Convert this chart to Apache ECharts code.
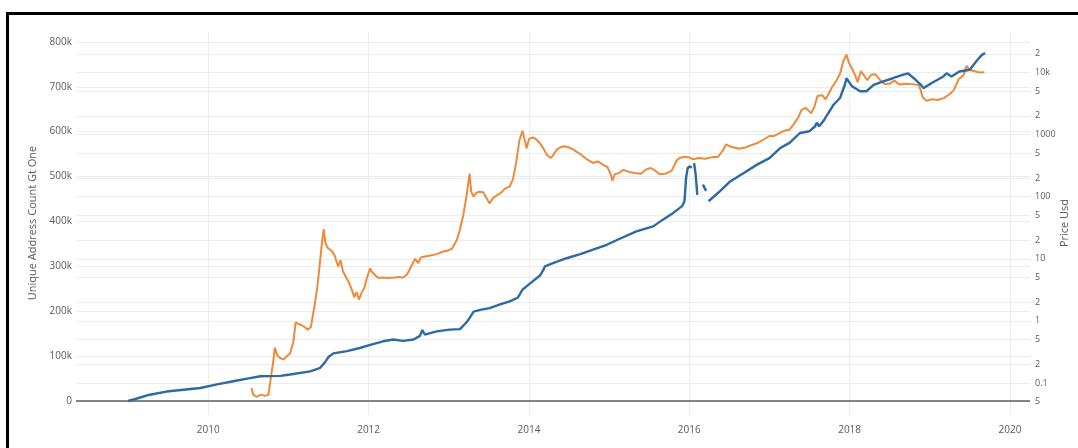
<!DOCTYPE html>
<html>
<head>
<meta charset="utf-8">
<script src="https://cdn.jsdelivr.net/npm/echarts@6/dist/echarts.min.js"></script>
<style>
  html, body { margin: 0; padding: 0; background: #fff; }
  #chart { width: 1078px; height: 448px; }
</style>
</head>
<body>
<div id="chart"></div>
<script>
// Unique addresses holding more than one coin (left, linear axis)
const addrYears = [
  2009.00, 2009.10, 2009.27, 2009.48, 2009.69, 2009.90, 2010.11, 2010.31, 2010.52, 2010.65,
  2010.90, 2011.02, 2011.27, 2011.39, 2011.45, 2011.50, 2011.56, 2011.73, 2011.89, 2012.02,
  2012.18, 2012.31, 2012.43, 2012.56, 2012.64, 2012.67, 2012.70, 2012.85, 2013.01, 2013.14,
  2013.23, 2013.31, 2013.39, 2013.51, 2013.64, 2013.76, 2013.86, 2013.92, 2014.05, 2014.14,
  2014.18, 2014.20, 2014.22, 2014.30, 2014.47, 2014.64, 2014.80, 2014.97, 2015.14, 2015.34,
  2015.55, 2015.67, 2015.80, 2015.91, 2015.94, 2015.96, 2015.98, 2016.01, 2016.03, 2016.045,
  2016.06, 2016.08, 2016.10, 2016.135, 2016.17, 2016.21, 2016.225, 2016.24, 2016.38, 2016.51,
  2016.68, 2016.84, 2017.00, 2017.13, 2017.25, 2017.38, 2017.50, 2017.57, 2017.59, 2017.62,
  2017.67, 2017.80, 2017.88, 2017.94, 2017.96, 2018.03, 2018.13, 2018.21, 2018.30, 2018.42,
  2018.54, 2018.67, 2018.73, 2018.80, 2018.88, 2018.92, 2019.04, 2019.17, 2019.21, 2019.27,
  2019.37, 2019.50, 2019.58, 2019.65, 2019.69
];
const addrCounts = [
  0, 5000, 14000, 21000, 25000, 29000, 37000, 44000, 51000, 55000,
  56000, 59000, 66000, 73000, 85000, 98000, 106000, 111000, 118000, 125000,
  133000, 137000, 134000, 137000, 145000, 158000, 148000, 155000, 159000, 160000,
  177000, 199000, 203000, 207000, 215000, 222000, 230000, 248000, 267000, 280000,
  292000, 300000, 296000, 307000, 318000, 327000, 337000, 348000, 362000, 378000,
  389000, 404000, 419000, 434000, 445000, 497000, 519000, 523000, 519000, null,
  530000, 504000, 459000, null, 482000, 468000, null, 445000, 467000, 489000,
  508000, 526000, 541000, 563000, 575000, 597000, 601000, 612000, 620000, 612000,
  623000, 660000, 675000, 704000, 719000, 701000, 690000, 690000, 704000, 712000,
  719000, 727000, 730000, 719000, 706000, 697000, 710000, 723000, 730000, 723000,
  734000, 738000, 757000, 771000, 775000
];

// Price in USD (right, logarithmic axis)
const priceYears = [
  2010.54, 2010.56, 2010.60, 2010.66, 2010.71, 2010.75, 2010.78, 2010.81, 2010.83, 2010.86,
  2010.90, 2010.94, 2010.98, 2011.02, 2011.06, 2011.09, 2011.12, 2011.15, 2011.20, 2011.24,
  2011.28, 2011.32, 2011.36, 2011.39, 2011.42, 2011.44, 2011.46, 2011.49, 2011.52, 2011.55,
  2011.58, 2011.62, 2011.65, 2011.68, 2011.72, 2011.75, 2011.79, 2011.82, 2011.85, 2011.88,
  2011.91, 2011.95, 2011.98, 2012.02, 2012.04, 2012.08, 2012.12, 2012.18, 2012.25, 2012.32,
  2012.38, 2012.43, 2012.48, 2012.53, 2012.58, 2012.62, 2012.65, 2012.72, 2012.80, 2012.86,
  2012.92, 2012.98, 2013.04, 2013.10, 2013.14, 2013.18, 2013.22, 2013.26, 2013.28, 2013.31,
  2013.34, 2013.38, 2013.43, 2013.47, 2013.51, 2013.55, 2013.60, 2013.65, 2013.70, 2013.76,
  2013.80, 2013.84, 2013.88, 2013.92, 2013.95, 2013.97, 2014.00, 2014.05, 2014.10, 2014.14,
  2014.18, 2014.22, 2014.27, 2014.30, 2014.35, 2014.40, 2014.45, 2014.50, 2014.55, 2014.60,
  2014.65, 2014.70, 2014.75, 2014.80, 2014.86, 2014.92, 2014.98, 2015.02, 2015.04, 2015.07,
  2015.12, 2015.18, 2015.25, 2015.32, 2015.40, 2015.45, 2015.52, 2015.58, 2015.63, 2015.70,
  2015.78, 2015.84, 2015.88, 2015.94, 2016.00, 2016.05, 2016.12, 2016.20, 2016.28, 2016.36,
  2016.42, 2016.46, 2016.50, 2016.56, 2016.62, 2016.70, 2016.78, 2016.86, 2016.94, 2017.00,
  2017.06, 2017.12, 2017.18, 2017.25, 2017.30, 2017.36, 2017.40, 2017.45, 2017.48, 2017.52,
  2017.56, 2017.60, 2017.66, 2017.70, 2017.74, 2017.78, 2017.83, 2017.88, 2017.92, 2017.96,
  2017.99, 2018.03, 2018.07, 2018.10, 2018.14, 2018.18, 2018.22, 2018.27, 2018.32, 2018.38,
  2018.44, 2018.50, 2018.56, 2018.62, 2018.70, 2018.78, 2018.86, 2018.88, 2018.91, 2018.96,
  2019.03, 2019.10, 2019.18, 2019.25, 2019.30, 2019.36, 2019.42, 2019.46, 2019.50, 2019.56,
  2019.62, 2019.68
];
const priceUsd = [
  0.083, 0.065, 0.060, 0.065, 0.062, 0.065, 0.12, 0.22, 0.37, 0.28,
  0.25, 0.24, 0.27, 0.30, 0.45, 0.95, 0.90, 0.87, 0.80, 0.72,
  0.80, 1.6, 3.5, 8, 19, 30, 18, 15, 14, 13,
  11, 7.5, 9.5, 6.3, 5.0, 4.3, 3.2, 2.4, 2.9, 2.2,
  2.8, 3.5, 5.0, 7.0, 6.2, 5.5, 4.9, 5.0, 4.9, 5.0,
  5.1, 5.0, 5.6, 7.5, 10.0, 8.5, 10.5, 11.0, 11.5, 12.0,
  13.0, 13.5, 14.5, 20, 30, 50, 100, 235, 120, 100,
  115, 120, 118, 95, 78, 95, 105, 115, 135, 145,
  190, 350, 800, 1150, 800, 600, 850, 900, 820, 720,
  600, 480, 420, 460, 580, 630, 650, 620, 580, 520,
  480, 420, 380, 350, 370, 330, 300, 230, 180, 230,
  240, 270, 250, 240, 235, 270, 290, 260, 230, 235,
  260, 380, 420, 440, 430, 400, 420, 410, 430, 440,
  560, 700, 650, 620, 590, 620, 680, 740, 850, 950,
  950, 1050, 1150, 1200, 1450, 1900, 2500, 2700, 2500, 2200,
  2800, 4200, 4300, 3700, 4600, 5800, 7200, 9500, 15000, 19500,
  14500, 11500, 9000, 7000, 10500, 9000, 7500, 9200, 9400, 7600,
  6500, 6600, 7400, 6400, 6600, 6500, 6300, 5500, 4000, 3500,
  3700, 3600, 3900, 4500, 5200, 7800, 9000, 12800, 11000, 10500,
  10000, 10100
];

// Log-axis tick positions and their printed labels
const priceTicks = [0.05, 0.1, 0.2, 0.5, 1, 2, 5, 10, 20, 50, 100, 200, 500, 1000, 2000, 5000, 10000, 20000];
const priceTickLabels = ['5', '0.1', '2', '5', '1', '2', '5', '10', '2', '5', '100', '2', '5', '1000', '2', '5', '10k', '2'];

const addrData = addrYears.map((y, i) => [y, addrCounts[i] === null ? null : addrCounts[i]]);
const priceData = priceYears.map((y, i) => [y, priceUsd[i]]);

const labelColor = '#5a5a5a';
const gridColor = '#ececec';
const fontFamily = '"Open Sans", "Noto Sans", sans-serif';

const chart = echarts.init(document.getElementById('chart'), null, { renderer: 'canvas' });

chart.setOption({
  animation: false,
  backgroundColor: '#ffffff',
  textStyle: { fontFamily: fontFamily },
  grid: { left: 76, right: 47, top: 32, bottom: 34 },
  xAxis: {
    type: 'value',
    min: 2008.35,
    max: 2020.25,
    splitNumber: 6,
    axisLine: { show: false },
    axisTick: { show: false },
    axisLabel: {
      color: labelColor, fontSize: 10, margin: 11,
      showMinLabel: false, showMaxLabel: false,
      formatter: v => {
        const r = Math.round(v);
        return (Math.abs(v - r) < 1e-6 && r % 2 === 0) ? String(r) : '';
      }
    },
    splitLine: { show: true, showMinLine: false, showMaxLine: false, lineStyle: { color: gridColor, width: 1 } }
  },
  yAxis: [
    {
      type: 'value',
      min: -29000,
      max: 822000,
      splitNumber: 8,
      name: 'Unique Address Count Gt One',
      nameLocation: 'middle',
      nameGap: 27,
      nameTextStyle: { color: labelColor, fontSize: 11 },
      axisLine: { show: false },
      axisTick: { show: false },
      axisLabel: {
        color: labelColor, fontSize: 10, margin: 4,
        showMinLabel: false, showMaxLabel: false,
        formatter: v => {
          const r = Math.round(v / 100000) * 100000;
          if (Math.abs(v - r) > 1) return '';
          return r === 0 ? '0' : (r / 1000) + 'k';
        }
      },
      splitLine: { show: true, showMinLine: false, showMaxLine: false, lineStyle: { color: gridColor, width: 1 } }
    },
    {
      type: 'log',
      logBase: 10,
      min: 0.0317,
      max: 44900,
      position: 'right',
      name: 'Price Usd',
      nameLocation: 'middle',
      nameGap: 29,
      nameTextStyle: { color: labelColor, fontSize: 11 },
      axisLine: { show: false },
      axisTick: { show: false },
      axisLabel: { show: false },
      splitLine: { show: false }
    }
  ],
  series: [
    {
      name: 'Unique Address Count Gt One',
      type: 'line',
      yAxisIndex: 0,
      data: addrData,
      showSymbol: false,
      connectNulls: false,
      z: 3,
      lineStyle: { color: '#2d6aa3', width: 2.4 },
      itemStyle: { color: '#2d6aa3' },
      markLine: {
        silent: true,
        symbol: 'none',
        z: 1,
        label: { show: false },
        lineStyle: { color: '#5c5c5c', width: 1.6, type: 'solid' },
        data: [{ yAxis: 0 }]
      }
    },
    {
      name: 'Price Usd',
      type: 'line',
      yAxisIndex: 1,
      data: priceData,
      showSymbol: false,
      z: 2,
      lineStyle: { color: '#ee8a3c', width: 2 },
      itemStyle: { color: '#ee8a3c' },
      markLine: {
        silent: true,
        symbol: 'none',
        z: 0,
        lineStyle: { color: gridColor, width: 1, type: 'solid' },
        label: {
          show: true, position: 'end', distance: 5,
          color: labelColor, fontSize: 9, fontFamily: fontFamily
        },
        data: priceTicks.map((v, i) => ({
          yAxis: v,
          label: { formatter: priceTickLabels[i] }
        }))
      }
    }
  ],
  graphic: [
    {
      type: 'rect',
      silent: true,
      z: 10,
      shape: { x: 7.5, y: 13.5, width: 1120, height: 480 },
      style: { fill: 'none', stroke: '#000000', lineWidth: 3 }
    }
  ]
});
</script>
</body>
</html>
